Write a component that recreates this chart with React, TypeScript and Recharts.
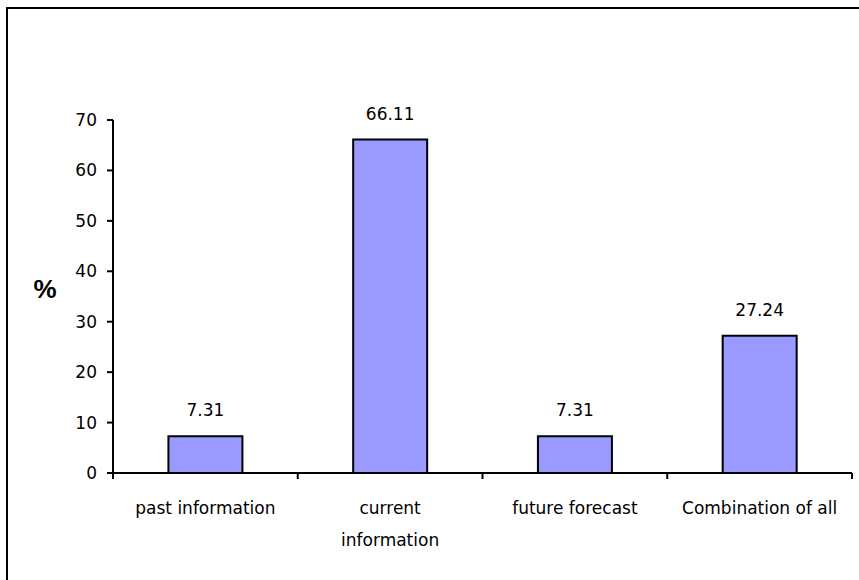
import React from 'react';
import { BarChart, Bar, XAxis, YAxis, LabelList, Label } from 'recharts';

const categories = ['past information', 'current information', 'future forecast', 'Combination of all'];
const tickLabelLines = [['past information'], ['current', 'information'], ['future forecast'], ['Combination of all']];
const percentages = [7.31, 66.11, 7.31, 27.24];
const yTicks = [0, 10, 20, 30, 40, 50, 60, 70];

const data = categories.map((c, i) => ({ name: c, value: percentages[i] }));

const FONT = '"DejaVu Sans", Arial, sans-serif';

const XTick = (props: any) => {
  const { x, y, payload, index, visibleTicksCount } = props;
  const idx = typeof index === 'number' ? index : categories.indexOf(payload.value);
  const lines = tickLabelLines[idx] || [String(payload.value)];
  const half = payload && typeof payload.offset === 'number' && payload.offset > 0
    ? payload.offset
    : (props.width || 739) / categories.length / 2;
  const axisY = y - 8;
  const isLast = idx === (visibleTicksCount ? visibleTicksCount - 1 : categories.length - 1);
  return (
    <g>
      <line x1={x - half} x2={x - half} y1={axisY} y2={axisY + 6} stroke="#000" strokeWidth={2} />
      {isLast && <line x1={x + half} x2={x + half} y1={axisY} y2={axisY + 6} stroke="#000" strokeWidth={2} />}
      <text x={x} y={axisY + 41} textAnchor="middle" fontSize={17} fontFamily={FONT} fill="#000">
        {lines.map((l: string, i: number) => (
          <tspan key={i} x={x} dy={i === 0 ? 0 : 32}>{l}</tspan>
        ))}
      </text>
    </g>
  );
};

export default function App() {
  return (
    <div style={{ position: 'absolute', left: 0, top: 0, width: 859, height: 580, overflow: 'hidden', background: '#fff' }}>
      <div style={{ position: 'absolute', left: 6, top: 7, width: 900, height: 600, borderLeft: '2px solid #000', borderTop: '2px solid #000' }} />
      <div style={{ position: 'absolute', left: 0, top: 0 }}>
        <BarChart
          width={859}
          height={580}
          data={data}
          margin={{ top: 120, right: 7, bottom: 27, left: 53 }}
          barCategoryGap="30%"
        >
          <XAxis
            dataKey="name"
            height={80}
            interval={0}
            tickLine={false}
            tickSize={6}
            tickMargin={2}
            axisLine={{ stroke: '#000', strokeWidth: 2 }}
            tick={<XTick />}
          />
          <YAxis
            width={60}
            domain={[0, 70]}
            ticks={yTicks}
            interval={0}
            tickSize={6}
            tickMargin={10}
            axisLine={{ stroke: '#000', strokeWidth: 2 }}
            tickLine={{ stroke: '#000', strokeWidth: 2 }}
            tick={{ fill: '#000', fontSize: 17, fontFamily: FONT }}
          >
            <Label
              content={(p: any) => {
                const vb = p.viewBox || { x: 53, y: 120, width: 60, height: 353 };
                return (
                  <text x={vb.x - 8} y={vb.y + vb.height / 2 + 1.5} textAnchor="middle" fontSize={26} fontWeight="bold" fontFamily="Arial, 'Liberation Sans', sans-serif" fill="#000">
                    %
                  </text>
                );
              }}
            />
          </YAxis>
          <Bar dataKey="value" fill="#9999FF" stroke="#000" strokeWidth={2} isAnimationActive={false}>
            <LabelList dataKey="value" position="top" offset={20} fill="#000" fontSize={17} fontFamily={FONT} formatter={(v: any) => Number(v).toFixed(2)} />
          </Bar>
        </BarChart>
      </div>
    </div>
  );
}
